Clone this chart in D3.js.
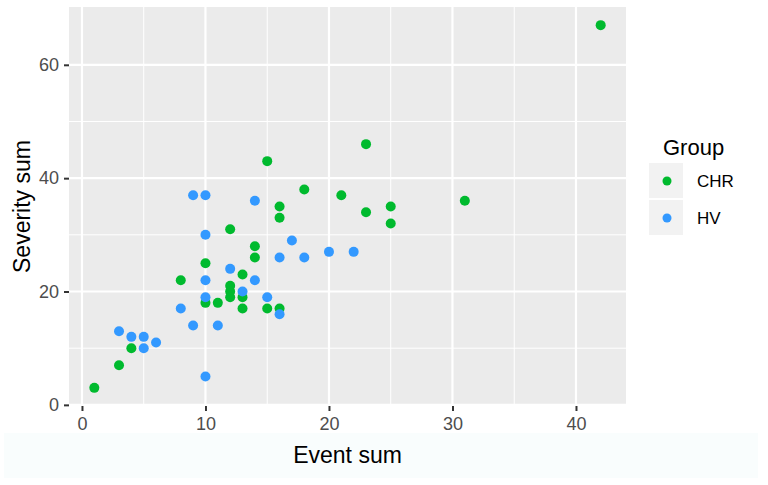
<!DOCTYPE html>
<html>
<head>
<meta charset="utf-8">
<script src="https://cdn.jsdelivr.net/npm/d3@7"></script>
<style>
  body { margin: 0; background: #fff; }
  text { font-family: "Liberation Sans", Arial, sans-serif; }
</style>
</head>
<body>
<div class="vis"></div>
<script>
// data: [event sum, severity sum]
const chrPoints = [
  [42, 67], [15, 43], [23, 46], [18, 38], [21, 37], [31, 36], [25, 35], [16, 35],
  [23, 34], [16, 33], [25, 32], [12, 31], [14, 28], [14, 26], [10, 25], [13, 23],
  [8, 22], [12, 21], [12, 20], [12, 19], [13, 19], [13, 17], [10, 18], [11, 18],
  [15, 17], [16, 17], [4, 10], [3, 7], [1, 3]
];
const hvPoints = [
  [9, 37], [10, 37], [14, 36], [10, 30], [17, 29], [16, 26], [18, 26], [20, 27],
  [22, 27], [12, 24], [10, 22], [14, 22], [13, 20], [10, 19], [15, 19], [16, 16],
  [8, 17], [9, 14], [11, 14], [10, 5], [3, 13], [4, 12], [5, 12], [6, 11], [5, 10]
];
const groups = ["CHR", "HV"];
const xTicks = [0, 10, 20, 30, 40];
const yTicks = [0, 20, 40, 60];
const xMinor = [5, 15, 25, 35];
const yMinor = [10, 30, 50];

const colors = { CHR: "#00ba2e", HV: "#3399ff" };

const width = 768, height = 485;
const margin = { top: 7, right: 142, bottom: 79, left: 69 };
const pw = width - margin.left - margin.right;
const ph = height - margin.top - margin.bottom;

const svg = d3.select(".vis").append("svg")
  .attr("width", width)
  .attr("height", height);

// faint band behind the x title
svg.append("rect")
  .attr("x", 4).attr("y", 433).attr("width", 754).attr("height", 45)
  .attr("fill", "#f9fdfd");

const g = svg.append("g")
  .attr("transform", "translate(" + margin.left + "," + margin.top + ")");

const all = chrPoints.concat(hvPoints);
const xExt = d3.extent(all, d => d[0]);
const yExt = d3.extent(all, d => d[1]);
const xPad = (xExt[1] - xExt[0]) * 0.05;
const yPad = (yExt[1] - yExt[0]) * 0.05;

const x = d3.scaleLinear().domain([xExt[0] - xPad, xExt[1] + xPad]).range([0, pw]);
const y = d3.scaleLinear().domain([yExt[0] - yPad, yExt[1] + yPad]).range([ph, 0]);

g.append("rect").attr("width", pw).attr("height", ph).attr("fill", "#ebebeb");

g.selectAll(".vminor").data(xMinor).enter().append("line")
  .attr("x1", d => x(d)).attr("x2", d => x(d)).attr("y1", 0).attr("y2", ph)
  .attr("stroke", "#fff").attr("stroke-width", 1);
g.selectAll(".hminor").data(yMinor).enter().append("line")
  .attr("y1", d => y(d)).attr("y2", d => y(d)).attr("x1", 0).attr("x2", pw)
  .attr("stroke", "#fff").attr("stroke-width", 1);
g.selectAll(".vmajor").data(xTicks).enter().append("line")
  .attr("x1", d => x(d)).attr("x2", d => x(d)).attr("y1", 0).attr("y2", ph)
  .attr("stroke", "#fff").attr("stroke-width", 2.2);
g.selectAll(".hmajor").data(yTicks).enter().append("line")
  .attr("y1", d => y(d)).attr("y2", d => y(d)).attr("x1", 0).attr("x2", pw)
  .attr("stroke", "#fff").attr("stroke-width", 2.2);

// axes
const xAxis = g.append("g")
  .attr("transform", "translate(0," + ph + ")")
  .call(d3.axisBottom(x).tickValues(xTicks).tickSize(5).tickPadding(6));
const yAxis = g.append("g")
  .call(d3.axisLeft(y).tickValues(yTicks).tickSize(5).tickPadding(5));
[xAxis, yAxis].forEach(a => {
  a.select(".domain").remove();
  a.selectAll("line").attr("stroke", "#333").attr("stroke-width", 2);
  a.selectAll("text").attr("fill", "#4d4d4d").style("font-size", "18px");
});

// points
const pts = chrPoints.map(d => ({ g: "CHR", x: d[0], y: d[1] }))
  .concat(hvPoints.map(d => ({ g: "HV", x: d[0], y: d[1] })));
g.selectAll("circle.pt").data(pts).enter().append("circle")
  .attr("class", "pt")
  .attr("cx", d => x(d.x))
  .attr("cy", d => y(d.y))
  .attr("r", 5)
  .attr("fill", d => colors[d.g]);

// titles
svg.append("text")
  .attr("x", margin.left + x(21.5)).attr("y", 463)
  .attr("text-anchor", "middle")
  .style("font-size", "23px").attr("fill", "#000")
  .text("Event sum");
svg.append("text")
  .attr("transform", "translate(30," + (margin.top + ph / 2) + ") rotate(-90)")
  .attr("text-anchor", "middle")
  .style("font-size", "23px").attr("fill", "#000")
  .text("Severity sum");

// legend
const lg = svg.append("g").attr("transform", "translate(649,0)");
lg.append("text").attr("x", 14).attr("y", 155)
  .style("font-size", "22px").attr("fill", "#000").text("Group");
groups.forEach((k, i) => {
  const top = 163 + i * 37;
  lg.append("rect").attr("x", 0).attr("y", top).attr("width", 34).attr("height", 35)
    .attr("fill", "#f2f2f2");
  lg.append("circle").attr("cx", 18).attr("cy", top + 18).attr("r", 4.5)
    .attr("fill", colors[k]);
  lg.append("text").attr("x", 48).attr("y", top + 18).attr("dy", "0.36em")
    .style("font-size", "17px").attr("fill", "#000").text(k);
});
</script>
</body>
</html>
